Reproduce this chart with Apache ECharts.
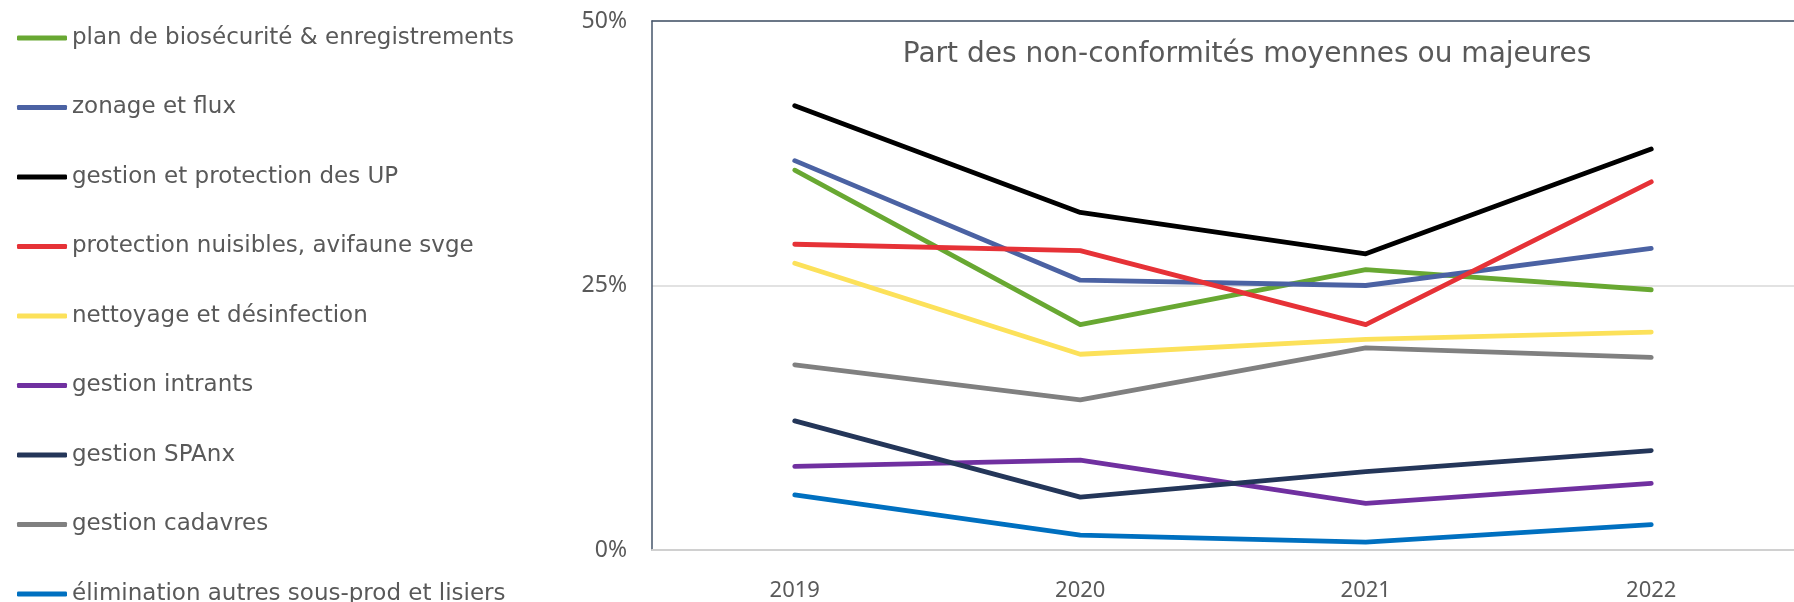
<!DOCTYPE html>
<html>
<head>
<meta charset="utf-8">
<script src="https://cdn.jsdelivr.net/npm/echarts@6/dist/echarts.min.js"></script>
<style>
  html, body { margin: 0; padding: 0; background: #fff; }
  #chart { width: 1794px; height: 602px; }
</style>
</head>
<body>
<div id="chart"></div>
<script>
// années
const years = ['2019', '2020', '2021', '2022']
// libellés et couleurs des séries
const names = [
  'plan de biosécurité & enregistrements',
  'zonage et flux',
  'gestion et protection des UP',
  'protection nuisibles, avifaune svge',
  'nettoyage et désinfection',
  'gestion intrants',
  'gestion SPAnx',
  'gestion cadavres',
  'élimination autres sous-prod et lisiers'
]
const colors = ['#68A832', '#4B62A3', '#000000', '#E63237', '#FCE15A', '#7030A0', '#243659', '#808080', '#0070C0']
// valeurs en %
const planBio = [35.9, 21.3, 26.5, 24.6]
const zonage = [36.8, 25.5, 25.0, 28.5]
const gestionUP = [42.0, 31.9, 28.0, 37.9]
const nuisibles = [28.9, 28.3, 21.3, 34.8]
const nettoyage = [27.1, 18.5, 19.9, 20.6]
const intrants = [7.9, 8.5, 4.4, 6.3]
const spanx = [12.2, 5.0, 7.4, 9.4]
const cadavres = [17.5, 14.2, 19.1, 18.2]
const elimination = [5.2, 1.4, 0.75, 2.4]
const yTicks = [0, 25, 50]

const values = [planBio, zonage, gestionUP, nuisibles, nettoyage, intrants, spanx, cadavres, elimination]
const textColor = '#595959'
const font = 'DejaVu Sans'
const axisFont = 'Noto Sans'

const chart = echarts.init(document.getElementById('chart'))

const option = {
  animation: false,
  color: colors,
  textStyle: { fontFamily: font },
  title: {
    text: 'Part des non-conformités moyennes ou majeures',
    left: 1242,
    top: 36,
    textAlign: 'center',
    textStyle: { fontSize: 28, fontWeight: 'normal', color: textColor, fontFamily: font }
  },
  legend: {
    orient: 'vertical',
    left: 12,
    top: 20,
    height: 800,
    icon: 'roundRect',
    itemWidth: 50,
    itemHeight: 5,
    itemGap: 43.5,
    data: names,
    textStyle: { fontSize: 23, color: textColor, fontFamily: font, lineHeight: 26 }
  },
  grid: {
    left: 652,
    top: 21,
    width: 1168,
    bottom: 50
  },
  xAxis: [
    {
      type: 'category',
      data: years,
      boundaryGap: true,
      axisLine: { lineStyle: { color: '#D0D0D0', width: 2 } },
      axisTick: { show: false },
      axisLabel: { fontSize: 22, color: textColor, margin: 30, fontFamily: axisFont }
    },
    {
      type: 'category',
      position: 'top',
      data: years,
      axisLine: { lineStyle: { color: '#44546A', width: 1.5 } },
      axisTick: { show: false },
      axisLabel: { show: false }
    }
  ],
  yAxis: {
    type: 'value',
    min: yTicks[0],
    max: yTicks[yTicks.length - 1],
    interval: 25,
    axisLine: { show: true, lineStyle: { color: '#44546A', width: 1.5 } },
    axisTick: { show: false },
    splitLine: { lineStyle: { color: '#D9D9D9', width: 1.5 } },
    axisLabel: { fontSize: 23, color: textColor, margin: 25, formatter: '{value}%', fontFamily: axisFont }
  },
  series: names.map((name, i) => ({
    name: name,
    type: 'line',
    data: values[i],
    symbol: 'none',
    lineStyle: { width: 4.8, color: colors[i], cap: 'round', join: 'round' },
    itemStyle: { color: colors[i] }
  }))
}

chart.setOption(option)
</script>
</body>
</html>
